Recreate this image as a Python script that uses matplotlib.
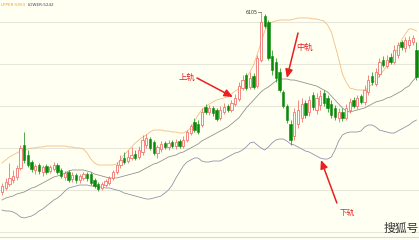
import matplotlib
matplotlib.use("Agg")
import matplotlib.pyplot as plt
from matplotlib.patches import Rectangle

plt.rcParams['font.family'] = ['Noto Sans CJK SC', 'DejaVu Sans']

opens = [4665,4697,4729,4761,4785,4857,5041,4961,4905,4841,4881,4825,4873,4833,4849,4881,4841,4785,4825,4769,
         4801,4761,4777,4809,4809,4761,4729,4697,4721,4737,4777,4825,4881,4937,4913,4937,4969,4945,4985,5041,
         5089,5065,4977,5009,5057,5025,5065,5033,5073,5033,5081,5137,5225,5209,5201,5345,5305,5337,5321,5257,
         5305,5353,5321,5369,5409,5497,5601,5505,5593,5513,5721,6073,6025,5753,5705,5625,5465,5353,5209,5113,
         5209,5257,5377,5305,5441,5321,5361,5457,5417,5369,5337,5257,5305,5257,5321,5401,5353,5433,5385,5465,
         5593,5529,5609,5721,5673,5745,5705,5761,5865,5817,5841,5865,5801]
closes = [4713,4745,4777,4793,4857,5017,4921,4881,4849,4873,4833,4865,4825,4865,4881,4825,4793,4817,4761,4801,
          4761,4793,4809,4777,4737,4713,4689,4729,4753,4777,4825,4881,4921,4905,4945,4961,4937,5001,5081,5097,
          5017,4977,5025,5049,5025,5057,5033,5065,5033,5081,5145,5193,5161,5145,5305,5305,5337,5297,5249,5321,
          5345,5321,5377,5417,5513,5561,5497,5577,5505,5737,6025,5993,5737,5641,5577,5481,5353,5241,5081,5305,
          5321,5369,5281,5401,5345,5417,5433,5377,5337,5281,5265,5305,5257,5337,5385,5353,5417,5385,5481,5561,
          5545,5625,5705,5681,5721,5705,5801,5841,5825,5881,5881,5897,5585]
highs = [4737,4777,4897,4841,4881,5041,5145,5001,4921,4889,4897,4881,4889,4881,4905,4897,4857,4833,4841,4825,
         4817,4809,4825,4825,4825,4777,4745,4745,4769,4793,4841,4905,4961,4985,5001,5025,5001,5033,5121,5129,
         5105,5081,5041,5073,5073,5081,5081,5089,5089,5113,5161,5209,5257,5241,5337,5369,5361,5353,5337,5353,
         5377,5369,5401,5449,5545,5601,5617,5625,5617,5761,6105,6089,6041,5801,5737,5657,5481,5369,5241,5337,
         5401,5417,5401,5433,5465,5457,5481,5481,5441,5401,5361,5337,5337,5369,5417,5425,5441,5449,5521,5601,
         5625,5657,5737,5753,5761,5777,5841,5865,5881,5905,5913,5921,5865]
lows = [4641,4681,4713,4737,4761,4841,4897,4865,4825,4809,4809,4793,4809,4817,4833,4809,4777,4761,4745,4745,
        4737,4737,4761,4753,4721,4697,4673,4681,4705,4721,4761,4809,4857,4889,4897,4921,4921,4929,4961,5017,
        5001,4961,4937,4985,5009,5001,5017,5009,5017,5017,5065,5121,5145,5129,5185,5289,5281,5273,5233,5241,
        5289,5305,5305,5353,5393,5481,5481,5489,5489,5497,5705,5977,5721,5601,5545,5465,5337,5217,5041,5081,
        5177,5225,5257,5273,5321,5289,5321,5353,5305,5257,5241,5225,5233,5241,5297,5337,5329,5369,5361,5441,
        5521,5513,5585,5665,5657,5689,5689,5737,5801,5785,5817,5841,5561]

upper = [4897,4921,4945,4961,4977,4993,5001,5009,5017,5017,5025,5025,5033,5033,5033,5033,5033,5033,5025,5025,
         5017,5017,5009,4977,4929,4897,4881,4881,4881,4881,4881,4889,4921,4961,4993,5025,5057,5081,5105,5121,
         5145,5161,5161,5161,5153,5153,5145,5145,5137,5137,5153,5177,5225,5281,5321,5345,5369,5385,5401,5409,
         5417,5425,5449,5473,5489,5529,5577,5625,5681,5769,5857,5953,6009,6025,6033,6041,6041,6041,6041,6049,
         6057,6057,6057,6057,6049,6049,6041,6033,6001,5945,5841,5729,5609,5545,5497,5489,5481,5481,5481,5497,
         5529,5561,5593,5633,5673,5721,5761,5817,5881,5929,5969,5969,5953]
middle = [4601,4617,4625,4633,4649,4657,4665,4681,4697,4705,4721,4737,4753,4769,4785,4793,4801,4817,4833,4841,
          4841,4841,4841,4833,4825,4809,4801,4793,4785,4777,4777,4777,4785,4793,4801,4809,4817,4825,4841,4857,
          4873,4889,4897,4913,4929,4945,4953,4961,4977,4985,5001,5017,5033,5049,5073,5089,5105,5121,5137,5153,
          5169,5185,5209,5233,5257,5297,5337,5369,5401,5433,5465,5489,5505,5529,5553,5569,5569,5569,5561,5561,
          5553,5545,5537,5529,5521,5513,5497,5481,5465,5433,5401,5369,5337,5313,5305,5313,5321,5329,5337,5353,
          5369,5385,5393,5401,5417,5425,5441,5457,5473,5497,5513,5553,5585]
lower = [4521,4513,4513,4505,4489,4465,4457,4465,4473,4489,4513,4529,4553,4577,4601,4617,4641,4673,4697,4705,
         4713,4721,4721,4721,4713,4713,4705,4705,4697,4697,4689,4681,4673,4657,4649,4641,4633,4625,4617,4609,
         4609,4617,4625,4633,4657,4681,4721,4777,4825,4873,4905,4921,4937,4937,4913,4905,4905,4913,4913,4913,
         4929,4945,4961,4977,4985,5001,5025,5057,5065,5041,5017,5001,5025,5057,5081,5089,5089,5073,5049,5041,
         5025,5009,4993,4985,4969,4953,4937,4929,4929,4945,5001,5073,5121,5137,5145,5145,5145,5153,5185,5201,
         5201,5185,5161,5153,5145,5137,5137,5153,5169,5185,5201,5225,5241]

legend_upper = "UPPER:5953"
legend_lower = "LOWER:5242"
peak_label = "6105"
grid_levels = [6025, 5689, 5353, 5017, 4681, 4345]

BG = '#fffff2'
UP = '#f05858'
DOWN = '#0a8a0a'

fig = plt.figure(figsize=(4.19, 2.40), dpi=100, facecolor=BG)
ax = fig.add_axes([0, 0, 1, 1], facecolor=BG)
n = len(opens)
ax.set_xlim(-0.54, 112.7)
ax.set_ylim(4281, 6201)
for g in grid_levels:
    ax.axhline(g, color='#e6e6da', lw=0.8, zorder=0)
ax.axhline(4305, color='#d8d8ce', lw=0.8, zorder=0)

w = 0.62
for i in range(n):
    o, c, h, l = opens[i], closes[i], highs[i], lows[i]
    if c >= o:
        col = UP
        ax.vlines(i, l, o, color=col, lw=0.5, zorder=3)
        ax.vlines(i, c, h, color=col, lw=0.5, zorder=3)
        ax.add_patch(Rectangle((i - w / 2, o), w, max(c - o, 4), facecolor=BG,
                               edgecolor=col, lw=0.5, zorder=3))
    else:
        col = DOWN
        ax.vlines(i, l, h, color=col, lw=0.5, zorder=3)
        ax.add_patch(Rectangle((i - w / 2, c), w, max(o - c, 4), facecolor=col,
                               edgecolor=col, lw=0.4, zorder=4))

xs = list(range(n))
ax.plot(xs, upper, color='#f2b878', lw=0.55, zorder=2)
ax.plot(xs, middle, color='#8a8a8a', lw=0.55, zorder=2)
ax.plot(xs, lower, color='#8a8aa6', lw=0.55, zorder=2)

ax.set_axis_off()

# legend text
ax.text(-0.4, 6161, legend_upper, color='#f0a030', fontsize=3.0, va='center', ha='left',
        family=['DejaVu Sans'])
ax.text(7.0, 6161, legend_lower, color='#404070', fontsize=3.0, va='center', ha='left',
        family=['DejaVu Sans'])

# peak label
ax.text(69.0, 6105, peak_label, color='#333333', fontsize=3.4, va='center', ha='right',
        family=['DejaVu Sans'])
ax.plot([69.1, 69.9], [6105, 6105], color='#555555', lw=0.5)

red = '#e82020'
ap = dict(arrowstyle='-|>,head_length=0.5,head_width=0.22', color=red, lw=1.1,
          shrinkA=0, shrinkB=0)
ax.annotate('', xy=(62.4, 5425), xytext=(52.7, 5577), arrowprops=ap, zorder=6)
ax.text(52.3, 5580, '上轨', color=red, fontsize=6, ha='right', va='center')
ax.annotate('', xy=(77.0, 5577), xytext=(80.0, 5937), arrowprops=ap, zorder=6)
ax.text(81.8, 5825, '中轨', color=red, fontsize=6, ha='center', va='center')
ax.annotate('', xy=(86.2, 4921), xytext=(90.5, 4577), arrowprops=ap, zorder=6)
ax.text(93.2, 4497, '下轨', color=red, fontsize=5.5, ha='center', va='center')

fig.text(0.958, 0.047, '搜狐号', color='#333333', fontsize=8.5, ha='center', va='center')

fig.savefig('out.png', dpi=100, facecolor=BG)
